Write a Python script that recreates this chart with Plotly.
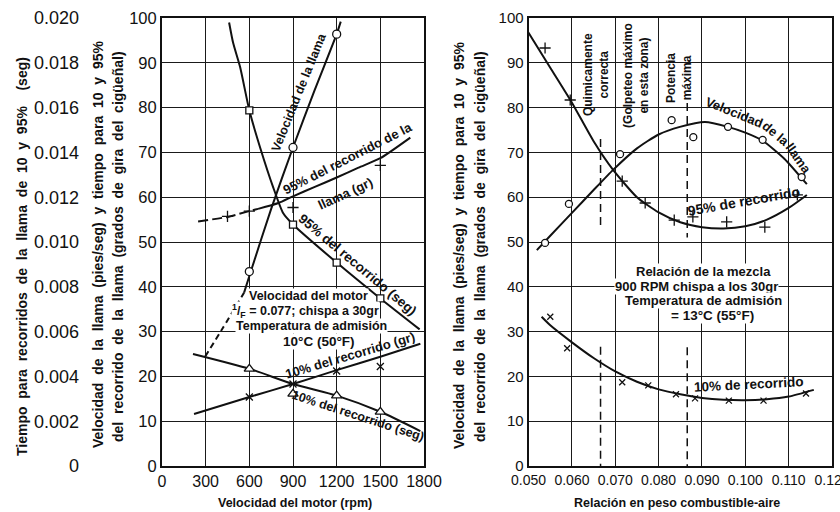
import plotly.graph_objects as go

# ---------------- LEFT PANEL DATA (engine speed) ----------------
rpm_ticks = [0, 300, 600, 900, 1200, 1500, 1800]
left_y_ticks = [0, 10, 20, 30, 40, 50, 60, 70, 80, 90, 100]
sec_ticks = [0, 0.002, 0.004, 0.006, 0.008, 0.010, 0.012, 0.014, 0.016, 0.018, 0.020]
sec_tick_text = ["0", "0.002", "0.004", "0.006", "0.008", "0.010", "0.012", "0.014", "0.016", "0.018", "0.020"]

# flame speed (ft/s) vs rpm
flame_dash_rpm = [296, 420, 564]
flame_dash_val = [24.4, 30.9, 38.7]
flame_rpm = [564, 610, 750, 900, 1050, 1200, 1228]
flame_val = [38.7, 43.4, 57.4, 71.1, 84.0, 96.4, 99.2]
flame_pts_rpm = [600, 900, 1200]
flame_pts_val = [43.4, 71.1, 96.4]

# 95% flame travel, seconds
t95_rpm = [461, 489, 537, 600, 674, 764, 833, 900, 1200, 1500, 1770]
t95_sec = [0.0198, 0.01888, 0.0178, 0.01588, 0.01422, 0.01244, 0.01128, 0.01078, 0.00908, 0.00748, 0.0061]
t95_pts_rpm = [600, 900, 1200, 1500]
t95_pts_sec = [0.01588, 0.01078, 0.00908, 0.00748]

# 95% flame travel, crank degrees
g95_dash_rpm = [248, 450, 600, 660]
g95_dash_val = [54.6, 55.6, 56.9, 57.4]
g95_rpm = [660, 800, 900, 1050, 1200, 1350, 1500, 1706]
g95_val = [57.4, 58.7, 60.2, 62.3, 64.4, 66.6, 68.7, 73.3]
g95_pts_rpm = [450, 600, 900, 1500]
g95_pts_val = [55.7, 56.9, 57.7, 67.1]

# 10% flame travel, crank degrees
g10_rpm = [220, 600, 900, 1200, 1500, 1775]
g10_val = [11.6, 15.4, 18.3, 21.4, 24.4, 27.3]
g10_pts_rpm = [600, 900, 1200, 1500]
g10_pts_val = [15.4, 18.3, 21.2, 22.2]

# 10% flame travel, seconds
t10_rpm = [213, 600, 900, 1200, 1500, 1775]
t10_sec = [0.0050, 0.00434, 0.00366, 0.00314, 0.00242, 0.00156]
t10_pts_rpm = [600, 900, 1200, 1500]
t10_pts_sec = [0.00434, 0.00322, 0.00314, 0.00242]

# ---------------- RIGHT PANEL DATA (fuel-air ratio) ----------------
fa_ticks = [0.05, 0.06, 0.07, 0.08, 0.09, 0.10, 0.11, 0.12]
fa_tick_text = ["0.050", "0.060", "0.070", "0.080", "0.090", "0.100", "0.110", "0.120"]

r95_fa = [0.0496, 0.055, 0.060, 0.065, 0.0695, 0.075, 0.080, 0.085, 0.090, 0.095, 0.100, 0.105, 0.110, 0.1142]
r95_val = [97.3, 88.9, 81.1, 72.5, 66.1, 60.0, 56.6, 54.4, 53.3, 53.0, 53.5, 55.0, 57.6, 60.5]
r95_pts_fa = [0.0538, 0.0596, 0.0716, 0.0769, 0.0836, 0.0879, 0.0957, 0.1045, 0.1120]
r95_pts_val = [93.3, 81.7, 63.6, 58.7, 54.9, 55.6, 54.5, 53.3, 60.5]

rfl_fa = [0.0519, 0.055, 0.060, 0.065, 0.0695, 0.075, 0.080, 0.0849, 0.0907, 0.096, 0.100, 0.104, 0.1090, 0.1142]
rfl_val = [48.2, 51.4, 56.5, 61.6, 66.1, 70.9, 74.0, 75.7, 76.8, 75.7, 74.4, 72.6, 68.6, 62.9]
rfl_pts_fa = [0.0538, 0.0593, 0.0711, 0.0830, 0.0880, 0.0960, 0.1040, 0.1130]
rfl_pts_val = [49.8, 58.5, 69.6, 77.2, 73.4, 75.7, 72.8, 64.5]

r10_fa = [0.053, 0.055, 0.060, 0.065, 0.070, 0.075, 0.080, 0.085, 0.090, 0.095, 0.100, 0.105, 0.110, 0.1158]
r10_val = [33.3, 31.4, 27.6, 24.1, 21.1, 18.8, 17.1, 16.0, 15.2, 14.8, 14.7, 14.9, 15.5, 17.0]
r10_pts_fa = [0.0550, 0.0589, 0.0716, 0.0776, 0.0840, 0.0884, 0.0962, 0.1042, 0.1140]
r10_pts_val = [33.3, 26.3, 18.7, 18.0, 16.0, 15.1, 14.6, 14.6, 16.2]

chem_fa = [0.0666, 0.0666, None, 0.0666, 0.0666]
chem_val = [73.0, 52.7, None, 26.6, 0]
pmax_fa = [0.0866, 0.0866, None, 0.0866, 0.0866]
pmax_val = [81.0, 51.0, None, 26.5, 0]

# ---------------- STYLE ----------------
FONT = "Liberation Sans, Arial, sans-serif"
BLK = "#111111"
LW = 2
NB = " \u00a0"  # widened word gap used in the rotated axis titles

fig = go.Figure()


def line(x, y, xa, ya, dash="solid"):
    fig.add_trace(go.Scatter(x=x, y=y, xaxis=xa, yaxis=ya, mode="lines",
                             line=dict(color=BLK, width=LW, shape="spline", smoothing=0.6, dash=dash),
                             hoverinfo="skip", showlegend=False))


def marks(x, y, xa, ya, symbol, size=8, fill="white"):
    fig.add_trace(go.Scatter(x=x, y=y, xaxis=xa, yaxis=ya, mode="markers",
                             marker=dict(symbol=symbol, size=size, color=fill,
                                         line=dict(color=BLK, width=1.3)),
                             hoverinfo="skip", showlegend=False))


# left panel
line(flame_dash_rpm, flame_dash_val, "x", "y", dash="6px,4px")
line(flame_rpm, flame_val, "x", "y")
marks(flame_pts_rpm, flame_pts_val, "x", "y", "circle")
line(t95_rpm, t95_sec, "x", "y3")
marks(t95_pts_rpm, t95_pts_sec, "x", "y3", "square", size=7)
line(g95_dash_rpm, g95_dash_val, "x", "y", dash="10px,4px")
line(g95_rpm, g95_val, "x", "y")
marks(g95_pts_rpm, g95_pts_val, "x", "y", "cross-thin", size=8, fill=BLK)
line(g10_rpm, g10_val, "x", "y")
marks(g10_pts_rpm, g10_pts_val, "x", "y", "x-thin", size=7, fill=BLK)
line(t10_rpm, t10_sec, "x", "y3")
marks(t10_pts_rpm, t10_pts_sec, "x", "y3", "triangle-up", size=9)

# right panel
line(r95_fa, r95_val, "x2", "y2")
marks(r95_pts_fa, r95_pts_val, "x2", "y2", "cross-thin", size=8, fill=BLK)
line(rfl_fa, rfl_val, "x2", "y2")
marks(rfl_pts_fa, rfl_pts_val, "x2", "y2", "circle", size=7)
line(r10_fa, r10_val, "x2", "y2")
marks(r10_pts_fa, r10_pts_val, "x2", "y2", "x-thin", size=6, fill=BLK)
for xs, ys in ((chem_fa, chem_val), (pmax_fa, pmax_val)):
    fig.add_trace(go.Scatter(x=xs, y=ys, xaxis="x2", yaxis="y2", mode="lines",
                             line=dict(color=BLK, width=1.5, dash="8px,5px"),
                             hoverinfo="skip", showlegend=False, connectgaps=False))

axis_common = dict(showgrid=True, gridcolor="#1a1a1a", gridwidth=1.4, zeroline=False,
                   showline=True, linecolor=BLK, linewidth=2, mirror=True, ticks="",
                   automargin=False)

fig.update_layout(
    width=840, height=512, margin=dict(l=0, r=0, t=0, b=0),
    paper_bgcolor="white", plot_bgcolor="white",
    xaxis=dict(domain=[162 / 840, 424 / 840], range=[0, 1800], tickvals=rpm_ticks,
               tickfont=dict(family=FONT, size=16, color=BLK), anchor="y",
               ticklabeloverflow="allow", **axis_common),
    yaxis=dict(domain=[1 - 466 / 512, 1 - 18 / 512], range=[0, 100], tickvals=left_y_ticks,
               tickfont=dict(family=FONT, size=16.5, color=BLK), anchor="x", **axis_common),
    yaxis3=dict(domain=[1 - 466 / 512, 1 - 18 / 512], range=[0, 0.02], overlaying="y",
                anchor="free", position=79 / 840, side="left", tickvals=sec_ticks,
                ticktext=sec_tick_text, showgrid=False, showline=False, zeroline=False,
                ticks="", automargin=False, tickfont=dict(family=FONT, size=18, color=BLK)),
    xaxis2=dict(domain=[528.6 / 840, 832 / 840], range=[0.05, 0.12], tickvals=fa_ticks,
                ticktext=fa_tick_text, tickfont=dict(family=FONT, size=14, color=BLK),
                anchor="y2", ticklabeloverflow="allow", **axis_common),
    yaxis2=dict(domain=[1 - 466 / 512, 1 - 18 / 512], range=[0, 100], tickvals=left_y_ticks,
                tickfont=dict(family=FONT, size=15, color=BLK), anchor="x2", **axis_common),
)


def pann(text, px, py, angle=0, size=12.5, **kw):
    fig.add_annotation(text=text, x=px / 840, y=1 - py / 512, xref="paper", yref="paper",
                       xanchor="center", yanchor="middle", showarrow=False, textangle=angle,
                       font=dict(family=FONT, size=size, color=BLK), **kw)


def dann(text, x, y, xref, yref, angle=0, size=12.5, **kw):
    fig.add_annotation(text=text, x=x, y=y, xref=xref, yref=yref, showarrow=False,
                       xanchor="center", yanchor="middle",
                       textangle=angle, font=dict(family=FONT, size=size, color=BLK), **kw)


def wide(s):
    return "<b>" + s.replace(" ", NB) + "</b>"


# axis titles
pann(wide("Tiempo para recorridos de la llama de 10 y 95%  (seg)"), 22, 257, -90, 14)
pann(wide("Velocidad de la llama (pies/seg) y tiempo para 10 y 95%"), 98, 245, -90, 14)
pann(wide("del recorrido de la llama (grados de gira del cigüeñal)"), 118, 247, -90, 14)
pann("<b>Velocidad del motor (rpm)</b>", 295, 503, 0, 12.5)
pann(wide("Velocidad de la llama (pies/seg) y tiempo para 10 y 95%"), 459, 245, -90, 14)
pann(wide("del recorrido de la llama (grados de gira del cigüeñal)"), 480, 247, -90, 14)
pann("<b>Relación en peso combustible-aire</b>", 677, 503, 0, 12.5)

# left panel labels
dann("<b>Velocidad de la llama</b>", 943, 83.4, "x", "y", -68, 12.5)
dann("<b>95% del recorrido de la</b>", 1273, 68.7, "x", "y", -27, 13)
dann("<b>llama (gr)</b>", 1262, 60.9, "x", "y", -25, 13)
dann("<b>95% del recorrido (seg)</b>", 1342, 45.0, "x", "y", 40, 13.5)
dann("<b>10% del recorrido (gr)</b>", 1290, 24.6, "x", "y", -16.5, 13)
dann("<b>10% del recorrido (seg)</b>", 1349, 11.2, "x", "y", 18, 12.5)
left_block = ["Velocidad del motor", "<sup>1</sup>/<sub>F</sub> = 0.077; chispa a 30gr",
              "Temperatura de admisión", "10°C (50°F)"]
left_block_y = [38.0, 34.5, 31.3, 27.8]
left_block_x = [1005, 985, 1025, 1080]
for t, xx, yy in zip(left_block, left_block_x, left_block_y):
    dann("<b>" + t + "</b>", xx, yy, "x", "y", 0, 12.5 if xx != 1080 else 13.5,
         bgcolor="white", borderpad=0)

# right panel labels
dann("<b>Quimicamente<br>correcta</b>", 0.0656, 87.3, "x2", "y2", -90, 12)
dann("<b>(Golpeteo máximo<br>en esta zona)</b>", 0.0748, 87.1, "x2", "y2", -90, 12)
dann("<b>Potencia<br>máxima</b>", 0.0847, 86.6, "x2", "y2", -90, 12)
dann("<b>Velocidad</b>", 0.09756, 79.0, "x2", "y2", 22, 13)
dann("<b>de la</b>", 0.10701, 74.3, "x2", "y2", 40, 13)
dann("<b>llama</b>", 0.11231, 68.75, "x2", "y2", 55, 13)
dann("<b>95% de recorrido</b>", 0.0998, 59.2, "x2", "y2", -10, 14)
right_block = ["Relación de la mezcla", "900 RPM chispa a los 30gr",
               "Temperatura de admisión", "= 13°C (55°F)"]
right_block_y = [43.4, 40.0, 36.9, 33.7]
right_block_x = [0.0904, 0.0888, 0.0904, 0.0924]
right_block_size = [13, 13, 13, 13.5]
for t, xx, yy, sz in zip(right_block, right_block_x, right_block_y, right_block_size):
    dann("<b>" + t + "</b>", xx, yy, "x2", "y2", 0, sz, bgcolor="white", borderpad=0)
dann("<b>10% de recorrido</b>", 0.1008, 18.2, "x2", "y2", -3, 13.5)

fig.write_html("out.html")
